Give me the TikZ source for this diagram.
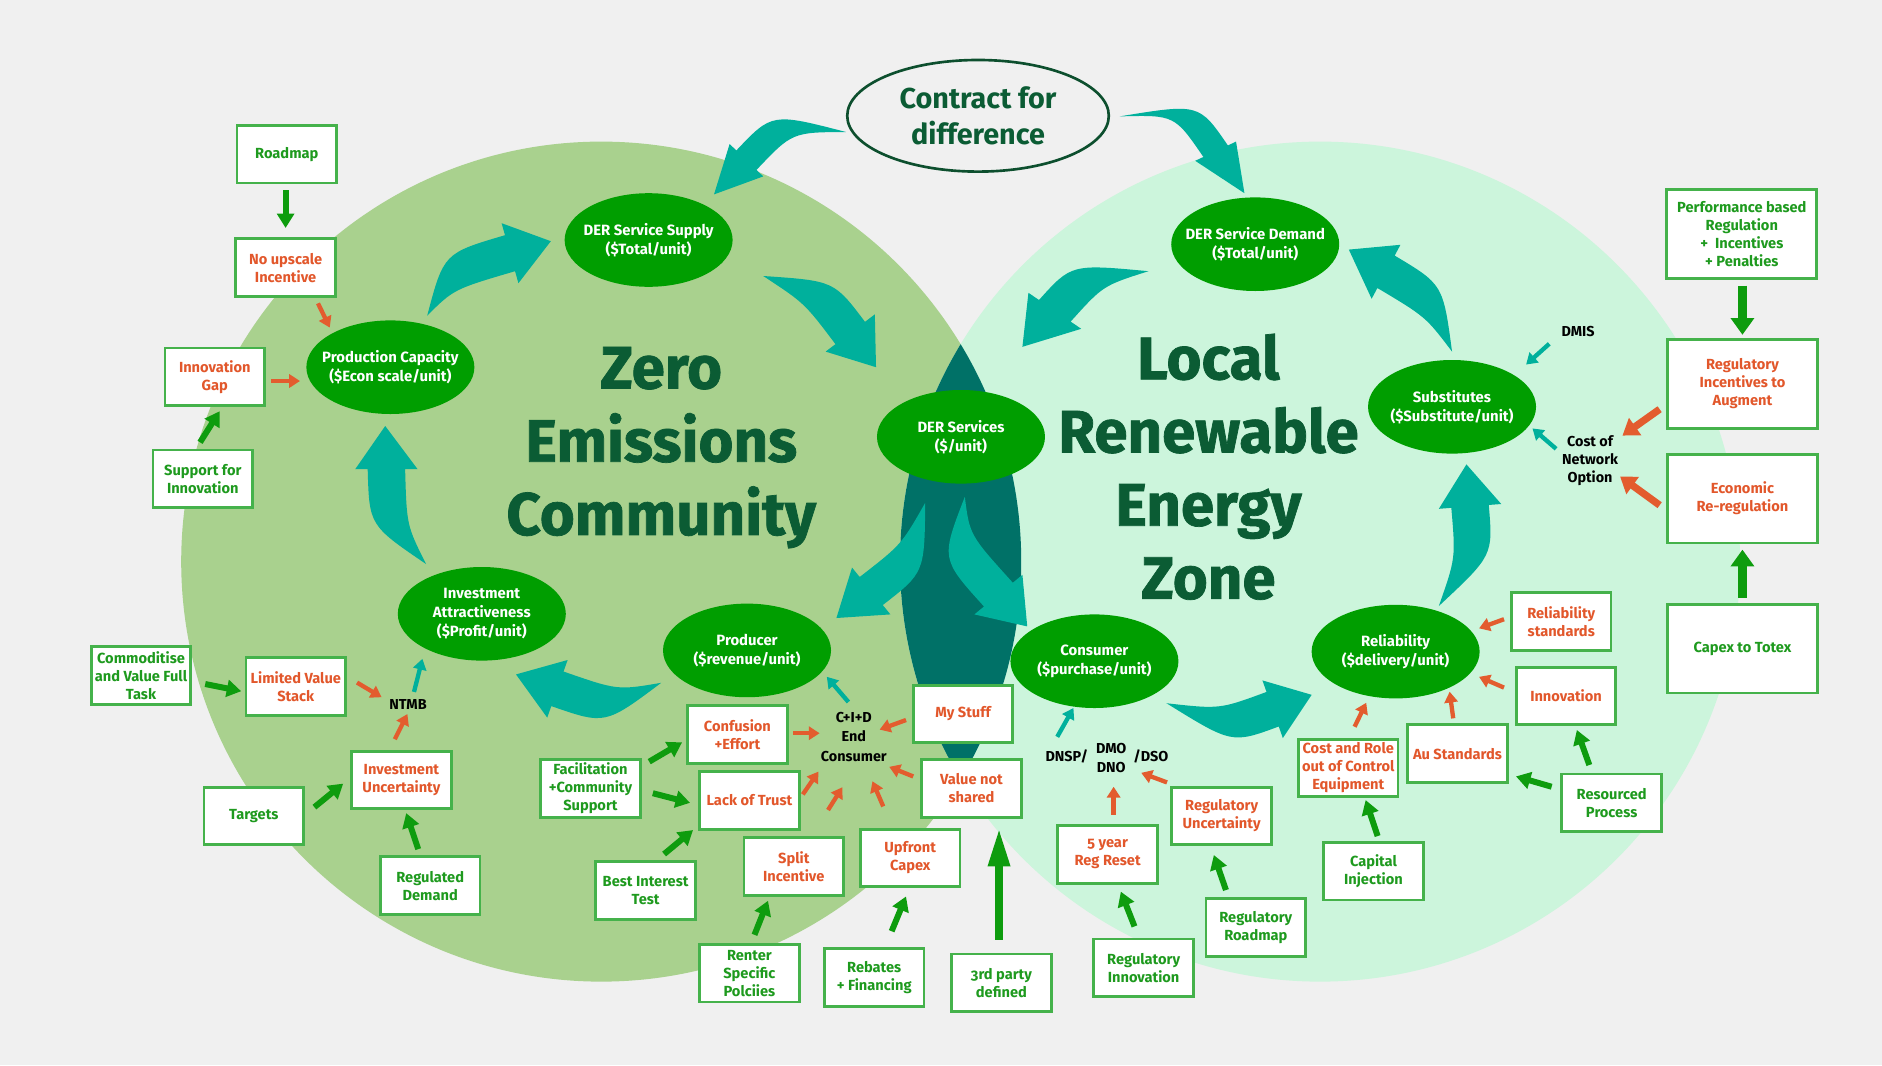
\documentclass[tikz,border=0pt]{standalone}
\usepackage{fontspec}
\setmainfont{Fira Sans}[Numbers=OldStyle]
\newfontfamily\titlefam{Fira Sans}[BoldFeatures={FakeBold=1.2}]
\usetikzlibrary{shapes.geometric,arrows.meta,calc}
\definecolor{bgc}{HTML}{F0F0F0}
\definecolor{leftc}{HTML}{A9D18E}
\definecolor{rightc}{HTML}{CCF5DC}
\definecolor{lensc}{HTML}{007167}
\definecolor{bigteal}{HTML}{00B09C}
\definecolor{ellg}{HTML}{009E00}
\definecolor{boxg}{HTML}{45B24B}
\definecolor{gtext}{HTML}{1E9A1E}
\definecolor{otext}{HTML}{E2572B}
\definecolor{oarrc}{HTML}{E35C2E}
\definecolor{garrc}{HTML}{0E9C0E}
\definecolor{titlec}{HTML}{0B5C34}
\definecolor{cfdline}{HTML}{0D4F2E}
\newcommand\boxfnt{\fontsize{12.2}{15}\selectfont\bfseries}
\newcommand\ellfnt{\fontsize{12.4}{16}\selectfont\bfseries}
\newcommand\lblfnt{\fontsize{12}{16}\selectfont\bfseries}
\newcommand\titlefnt{\titlefam\fontsize{50}{61}\selectfont\bfseries}
\newcommand\cfdfnt{\fontsize{24}{30}\selectfont\bfseries}
\tikzset{
 box/.style={draw=boxg, line width=2.3pt, fill=white, minimum width=83pt, minimum height=48pt, inner sep=1pt, align=center, font=\boxfnt},
 obox/.style={box, text=otext},
 gbox/.style={box, text=gtext},
 bigbx/.style={minimum width=125pt, minimum height=74pt},
 ell/.style={ellipse, fill=ellg, text=white, minimum width=140pt, minimum height=78pt, inner xsep=-14pt, inner ysep=0pt, align=center, font=\ellfnt},
 lbl/.style={text=black, align=center, font=\lblfnt, inner sep=0pt},
 garr/.style={draw=garrc, line width=5pt, -{Triangle[width=14pt,length=12pt]}},
 gbig/.style={draw=garrc, line width=6.8pt, -{Triangle[width=19pt,length=14pt]}},
 gthird/.style={draw=garrc, line width=6.6pt, -{Triangle[width=17pt,length=32pt]}},
 oarr/.style={draw=oarrc, line width=3.6pt, -{Triangle[width=11pt,length=9pt]}},
 obig/.style={draw=oarrc, line width=6pt, -{Triangle[width=17pt,length=13pt]}},
 tarr/.style={draw=bigteal, line width=3.6pt, -{Triangle[width=11pt,length=9pt]}},
}
% small arrow from node to node, with offsets from the node centres
\newcommand\sarr[5]{\draw[#1] ([shift={(#3)}]#2.center) -- ([shift={(#5)}]#4.center);}
% big tapered curved arrow: tail, wing1, tip, wing2, bend, shaft fraction, name
\newcommand\bigarr[7]{%
 \coordinate (#7t) at (#1);
 \coordinate (#7a) at (#2);
 \coordinate (#7p) at (#3);
 \coordinate (#7b) at (#4);
 \coordinate (#7m) at ($(#7a)!0.5!(#7b)$);
 \coordinate (#7c) at ($(#7m)!-#5!(#7p)$);
 \coordinate (#7s) at ($(#7m)!#6!(#7a)$);
 \coordinate (#7r) at ($(#7m)!#6!(#7b)$);
 \coordinate (#7x) at ($(#7c)+1.0*(#7s)-1.0*(#7m)$);
 \coordinate (#7y) at ($(#7c)+1.0*(#7r)-1.0*(#7m)$);
 \fill[bigteal] (#7t) .. controls (#7x) .. (#7s) -- (#7a) -- (#7p) -- (#7b) -- (#7r) .. controls (#7y) .. (#7t) -- cycle;}
\begin{document}
\begin{tikzpicture}[x=1pt,y=-1pt]
\useasboundingbox (0,0) rectangle (1568.3,887.5);
\fill[bgc] (0,0) rectangle (1568.3,887.5);
% circles and lens
\fill[leftc] (501,468) circle[radius=350];
\fill[rightc] (1100,468) circle[radius=350];
\begin{scope}
 \clip (501,468) circle[radius=350];
 \fill[lensc] (1100,468) circle[radius=350];
\end{scope}
% titles
\node[text=titlec, font=\titlefnt, align=center] (zec) at (551,373) {Zero\\Emissions\\Community};
\node[text=titlec, font=\titlefnt, align=center] (lrez) at (1007,389) {Local\\Renewable\\Energy\\Zone};
% big arrows
\bigarr{705,110}{608,120}{595,162}{636,147}{1.1}{0.6}{ba}
\bigarr{933,97}{996,134}{1037,161}{1030,118}{1.0}{0.6}{bb}
\bigarr{356,263}{418,186}{459,201}{432,236}{1.5}{0.6}{bc}
\bigarr{636,230}{729,262}{730,306}{688,293}{1.2}{0.6}{bd}
\bigarr{957,226}{901,274}{852,289}{857,244}{1.0}{0.6}{be}
\bigarr{1210,293}{1143,249}{1124,208}{1167,204}{1.3}{0.6}{bf}
\bigarr{1199,505}{1199,424}{1222,387}{1251,420}{1.2}{0.6}{bg}
\bigarr{972,586}{1069,615}{1093,579}{1052,567}{1.2}{0.6}{bh}
\bigarr{804,414}{812,512}{856,522}{852,479}{1.5}{0.6}{bi}
\bigarr{771,419}{710,473}{697,515}{742,512}{1.2}{0.6}{bj}
\bigarr{551,569}{456,598}{430,562}{473,550}{1.3}{0.6}{bk}
\bigarr{355,470}{296,391}{321,355}{348,391}{1.3}{0.6}{bl}
% contract for difference
\node[ellipse, draw=cfdline, line width=2.2pt, fill=bgc, minimum width=218pt, minimum height=93pt, inner sep=0pt, text=titlec, font=\cfdfnt, align=center] (cfd) at (815,96.5) {Contract for\\difference};
% ellipses
\node[ell] (supply) at (540.5,200) {DER Service Supply\\(\$Total/unit)};
\node[ell] (prodcap) at (325.3,306) {Production Capacity\\(\$Econ scale/unit)};
\node[ell] (invattr) at (401.5,511.5) {Investment\\Attractiveness\\(\$Profit/unit)};
\node[ell] (producer) at (622.5,542) {Producer\\(\$revenue/unit)};
\node[ell] (dersvc) at (800.8,364) {DER Services\\(\$/unit)};
\node[ell] (demand) at (1046,203.5) {DER Service Demand\\(\$Total/unit)};
\node[ell] (subst) at (1210,339) {Substitutes\\(\$Substitute/unit)};
\node[ell] (consumer) at (912,551) {Consumer\\(\$purchase/unit)};
\node[ell] (reliab) at (1163,543) {Reliability\\(\$delivery/unit)};
% boxes left
\node[gbox] (roadmap) at (239,128.5) {Roadmap};
\node[obox] (noup) at (238,223) {No upscale\\Incentive};
\node[obox] (ingap) at (179,314) {Innovation\\Gap};
\node[gbox] (support) at (169,399) {Support for\\Innovation};
\node[gbox] (commod) at (117.5,563) {Commoditise\\and Value Full\\Task};
\node[obox] (limval) at (246.5,572) {Limited Value\\Stack};
\node[gbox] (targets) at (211.5,680) {Targets};
\node[obox] (invunc) at (334.5,650) {Investment\\Uncertainty};
\node[gbox] (regdem) at (358.5,738) {Regulated\\Demand};
\node[gbox] (facil) at (492,657) {Facilitation\\+Community\\Support};
\node[obox] (confus) at (614.5,612) {Confusion\\+Effort};
\node[obox] (lacktr) at (624.5,667) {Lack of Trust};
\node[gbox] (bestint) at (538,742) {Best Interest\\Test};
\node[obox] (split) at (661.5,722) {Split\\Incentive};
\node[obox] (upfront) at (758.5,715) {Upfront\\Capex};
\node[obox] (mystuff) at (802.5,595) {My Stuff};
\node[obox] (valnot) at (809.5,657) {Value not\\shared};
\node[gbox] (renter) at (624.5,811) {Renter\\Specific\\Polciies};
\node[gbox] (rebates) at (728.5,814.5) {Rebates\\+ Financing};
\node[gbox] (third) at (834.5,819) {3rd party\\defined};
% boxes right
\node[obox] (fiveyr) at (923,712) {5 year\\Reg Reset};
\node[obox] (regunc) at (1018,680) {Regulatory\\Uncertainty};
\node[gbox] (regroad) at (1046.5,773) {Regulatory\\Roadmap};
\node[gbox] (reginn) at (953,806.5) {Regulatory\\Innovation};
\node[obox] (costrole) at (1123.5,640) {Cost and Role\\out of Control\\Equipment};
\node[obox] (austd) at (1214.5,628) {Au Standards};
\node[gbox] (capinj) at (1144.5,726) {Capital\\Injection};
\node[obox] (relstd) at (1301,518) {Reliability\\standards};
\node[obox] (innovR) at (1305,580) {Innovation};
\node[gbox] (resproc) at (1343,669) {Resourced\\Process};
\node[gbox,bigbx] (perf) at (1451.5,195) {Performance based\\Regulation\\+\ \ Incentives\\+ Penalties};
\node[obox,bigbx] (reginc) at (1452,320) {Regulatory\\Incentives to\\Augment};
\node[obox,bigbx] (econ) at (1452,415.5) {Economic\\Re-regulation};
\node[gbox,bigbx] (capex) at (1452,540.5) {Capex to Totex};
% plain labels
\node[lbl] (ntmb) at (340,587) {NTMB};
\node[lbl] (cid) at (711.5,614) {C+I+D\\End\\Consumer};
\node[lbl] (dnsp) at (889,630.5) {DNSP/};
\node[lbl] (dmo) at (926,631.5) {DMO\\DNO};
\node[lbl] (dso) at (959,630) {/DSO};
\node[lbl] (dmis) at (1315,276) {DMIS};
\node[lbl, font=\fontsize{12}{15}\selectfont\bfseries] (costnet) at (1325,384) {Cost of\\Network\\Option};
% green arrows
\sarr{garr}{roadmap}{-1,30}{noup}{0,-33}
\sarr{garr}{support}{-2.3,-30.4}{ingap}{4,28.7}
\sarr{garr}{commod}{53.5,7}{limval}{-45.5,4}
\sarr{garr}{targets}{50.5,-7.4}{invunc}{-48.5,3}
\sarr{garr}{regdem}{-10,-30.4}{invunc}{4,27.6}
\sarr{garr}{facil}{49,-22.3}{confus}{-46.1,6.6}
\sarr{garr}{facil}{52,4}{lacktr}{-49.5,2}
\sarr{garr}{bestint}{15.4,-30.3}{lacktr}{-47,24.7}
\sarr{garr}{renter}{4.2,-32}{split}{-21.5,28.6}
\sarr{garr}{rebates}{14.5,-38.5}{upfront}{-3.5,32}
\sarr{gthird}{third}{-2,-36}{valnot}{23,33}
\sarr{garr}{reginn}{-7.6,-34.5}{fiveyr}{11,31}
\sarr{garr}{regroad}{-24.9,-31.3}{regunc}{-6.5,32.5}
\sarr{garr}{capinj}{3.5,-29.3}{costrole}{14.5,26.7}
\sarr{garr}{resproc}{-18.6,-31.5}{innovR}{9,28.3}
\sarr{garr}{resproc}{-50,-13.4}{austd}{48.8,19}
\sarr{gbig}{perf}{0.5,43}{reginc}{0,-41}
\sarr{gbig}{capex}{0,-42.5}{econ}{0,42.5}
% orange arrows
\sarr{oarr}{noup}{27,29.8}{prodcap}{-50.5,-33}
\sarr{oarr}{ingap}{47,3.5}{prodcap}{-75.3,11.5}
\sarr{oarr}{limval}{51,-3.2}{ntmb}{-22,-6}
\sarr{oarr}{invunc}{-5.5,-34}{ntmb}{-0.5,8}
\sarr{oarr}{confus}{46.5,-1}{cid}{-28.5,-3}
\sarr{oarr}{lacktr}{44.5,-5}{cid}{-29.5,29}
\sarr{oarr}{split}{28.5,-47}{cid}{-9.5,42}
\sarr{oarr}{upfront}{-22.5,-43}{cid}{15.5,37}
\sarr{oarr}{valnot}{-48.5,-10}{cid}{29.5,25}
\sarr{oarr}{mystuff}{-47.5,5}{cid}{21.5,-6}
\sarr{oarr}{fiveyr}{5,-33}{dmo}{2,24.1}
\sarr{oarr}{regunc}{-45.5,-28}{dso}{-8,14}
\sarr{oarr}{costrole}{5.3,-34.4}{reliab}{-24.5,42.6}
\sarr{oarr}{austd}{-3.5,-29.4}{reliab}{45,33.4}
\sarr{oarr}{innovR}{-51.7,-7}{reliab}{69.5,21}
\sarr{oarr}{relstd}{-47.7,-2}{reliab}{69.5,-19.4}
\sarr{obig}{reginc}{-69,21}{costnet}{27,-21}
\sarr{obig}{econ}{-69,5.5}{costnet}{25,13}
% teal small arrows
\sarr{tarr}{ntmb}{5,-10.4}{invattr}{-49.5,37.5}
\sarr{tarr}{cid}{-4.5,-29}{producer}{66.5,22}
\sarr{tarr}{dnsp}{-8,-16.5}{consumer}{-17.5,39}
\sarr{tarr}{dmis}{-24,10.5}{subst}{61.7,-35.2}
\sarr{tarr}{costnet}{-28.3,-10}{subst}{67,18}
\end{tikzpicture}
\end{document}
